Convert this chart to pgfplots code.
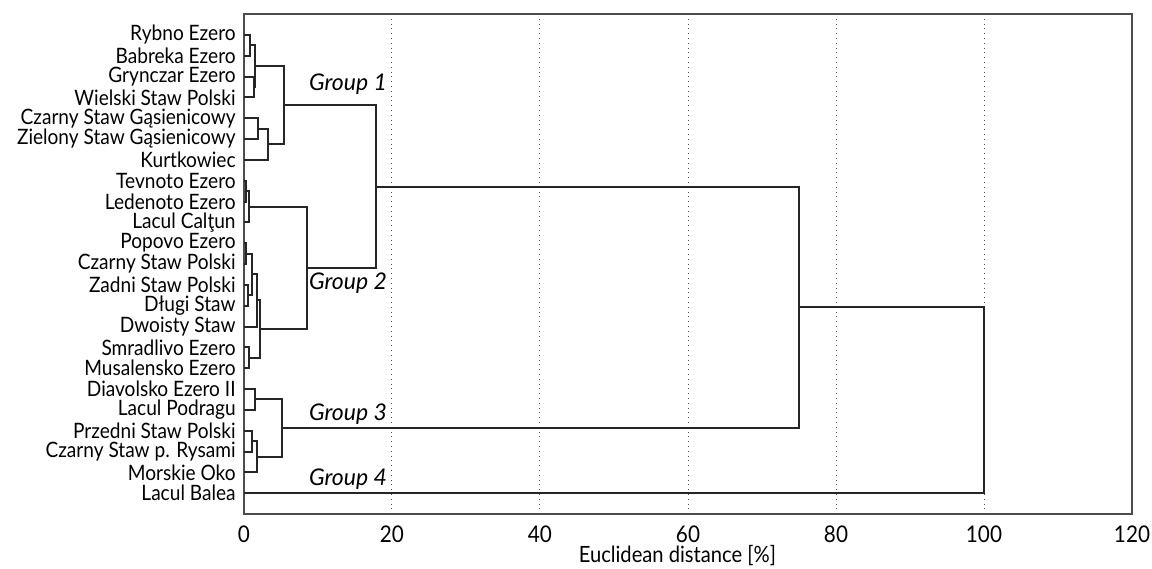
\documentclass[border=0pt]{standalone}
\usepackage{fontspec}
\setmainfont{Lato}[FakeStretch=0.9]
\newfontfamily\grpfont{Lato}
\usepackage{pgfplots}
\pgfplotsset{compat=1.18}

\definecolor{dendro}{HTML}{262626}
\definecolor{frame}{HTML}{4D4D4D}

\begin{document}
\begin{tikzpicture}
\begin{axis}[
    name=ax,
    scale only axis,
    width=444pt, height=250pt,
    xmin=0, xmax=120, ymin=-1, ymax=23,
    xtick={0,20,...,120},
    ytick={0,...,22},
    yticklabels={Lacul Balea, Morskie Oko, Czarny Staw p. Rysami, Przedni Staw Polski,
        Lacul Podragu, Diavolsko Ezero II, Musalensko Ezero, Smradlivo Ezero,
        Dwoisty Staw, Długi Staw, Zadni Staw Polski, Czarny Staw Polski, Popovo Ezero,
        Lacul Calţun, Ledenoto Ezero, Tevnoto Ezero, Kurtkowiec,
        Zielony Staw Gąsienicowy, Czarny Staw Gąsienicowy, Wielski Staw Polski,
        Grynczar Ezero, Babreka Ezero, Rybno Ezero},
    major tick length=0pt,
    tick label style={font=\fontsize{10.6}{12}\selectfont, text=black},
    yticklabel style={inner sep=0pt, xshift=-4pt},
    xticklabel style={inner sep=0pt, yshift=-5.5pt, anchor=north, font=\fontsize{11.5}{13}\selectfont},
    /pgf/number format/assume math mode=true,
    xmajorgrids,
    x grid style={dotted, color=black!70, line width=0.5pt},
    axis line style={color=frame, line width=0.8pt},
    xlabel={Euclidean distance [\%]},
    xlabel style={font=\fontsize{11.2}{12}\selectfont, at={(axis description cs:0.488,0)},
        anchor=north, inner sep=0pt, yshift=-15.5pt},
    clip=false,
    dend/.style={color=dendro, line width=1pt, mark=none, line join=miter},
]
% group 1
\addplot[dend] coordinates {(0,22) (0.85,22) (0.85,21) (0,21)};
\addplot[dend] coordinates {(0,20) (1.3,20) (1.3,19) (0,19)};
\addplot[dend] coordinates {(0.85,21.5) (1.45,21.5) (1.45,19.5) (1.3,19.5)};
\addplot[dend] coordinates {(0,18) (1.9,18) (1.9,17) (0,17)};
\addplot[dend] coordinates {(1.9,17.5) (3.2,17.5) (3.2,16) (0,16)};
\addplot[dend] coordinates {(1.45,20.5) (5.4,20.5) (5.4,16.75) (3.2,16.75)};
% group 2
\addplot[dend] coordinates {(0,15) (0.3,15) (0.3,14) (0,14)};
\addplot[dend] coordinates {(0.3,14.5) (0.65,14.5) (0.65,13) (0,13)};
\addplot[dend] coordinates {(0,12) (0.3,12) (0.3,11) (0,11)};
\addplot[dend] coordinates {(0,10) (0.55,10) (0.55,9) (0,9)};
\addplot[dend] coordinates {(0.3,11.5) (1.05,11.5) (1.05,9.5) (0.55,9.5)};
\addplot[dend] coordinates {(1.05,10.5) (1.7,10.5) (1.7,8) (0,8)};
\addplot[dend] coordinates {(0,7) (0.7,7) (0.7,6) (0,6)};
\addplot[dend] coordinates {(1.7,9.25) (2.15,9.25) (2.15,6.5) (0.7,6.5)};
\addplot[dend] coordinates {(0.65,13.75) (8.5,13.75) (8.5,7.875) (2.15,7.875)};
% groups 1 + 2
\addplot[dend] coordinates {(5.4,18.625) (17.9,18.625) (17.9,10.8125) (8.5,10.8125)};
% group 3
\addplot[dend] coordinates {(0,5) (1.45,5) (1.45,4) (0,4)};
\addplot[dend] coordinates {(0,3) (1.1,3) (1.1,2) (0,2)};
\addplot[dend] coordinates {(1.1,2.5) (1.75,2.5) (1.75,1) (0,1)};
\addplot[dend] coordinates {(1.45,4.5) (5.2,4.5) (5.2,1.75) (1.75,1.75)};
% top joins and group 4
\addplot[dend] coordinates {(17.9,14.71875) (75,14.71875) (75,3.125) (5.2,3.125)};
\addplot[dend] coordinates {(75,8.921875) (100,8.921875) (100,0) (0,0)};

\node[font=\grpfont\itshape\fontsize{11.5}{13}\selectfont] at (axis cs:14.05,19.65) {Group 1};
\node[font=\grpfont\itshape\fontsize{11.5}{13}\selectfont] at (axis cs:14.05,10.1) {Group 2};
\node[font=\grpfont\itshape\fontsize{11.5}{13}\selectfont] at (axis cs:14.05,3.8) {Group 3};
\node[font=\grpfont\itshape\fontsize{11.5}{13}\selectfont] at (axis cs:14.05,0.67) {Group 4};
\end{axis}
\pgfresetboundingbox
\path ([shift={(-122pt,-27pt)}]ax.south west) rectangle ([shift={(10pt,7pt)}]ax.north east);
\end{tikzpicture}
\end{document}
